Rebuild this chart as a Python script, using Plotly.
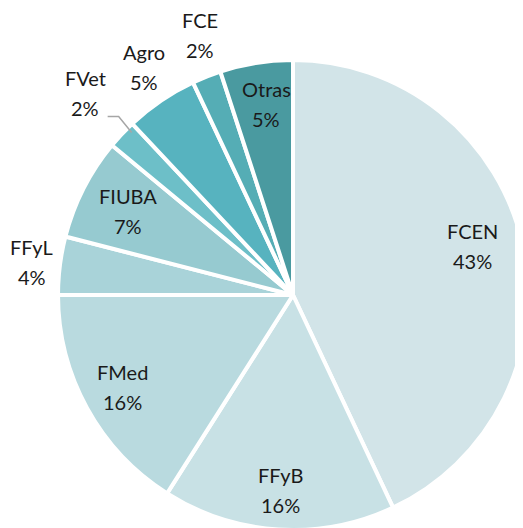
import math
import plotly.graph_objects as go

labels = ["FCEN", "FFyB", "FMed", "FFyL", "FIUBA", "FVet", "Agro", "FCE", "Otras"]
values = [43, 16, 16, 4, 7, 2, 5, 2, 5]
colors = ["#D2E4E8", "#C8E1E5", "#B9DADF", "#A9D3D9", "#96CAD0",
          "#6DBFC8", "#57B3BF", "#55ADB5", "#4A9AA0"]

# label placement styling (radius factor relative to pie radius, angle nudge in degrees)
label_radius = [0.79, 0.83, 0.825, 1.12, 0.79, 1.234, 1.16, 1.175, 0.82]
label_nudge = [-2.7, 0.0, 0.5, 0.0, 0.0, 1.0, 1.0, 1.9, 1.0]
leader = [False, False, False, False, False, True, False, False, False]

W, H = 523, 528
dom_x = [0.0956, 0.9943]
dom_y = [0.0114, 0.9015]

fig = go.Figure(go.Pie(
    labels=labels,
    values=values,
    sort=False,
    direction="clockwise",
    rotation=0,
    marker=dict(colors=colors, line=dict(color="white", width=4)),
    textinfo="none",
    showlegend=False,
    hoverinfo="label+percent",
    domain=dict(x=dom_x, y=dom_y),
))

# pie geometry (paper coords) derived from the domain
wpx = (dom_x[1] - dom_x[0]) * W
hpx = (dom_y[1] - dom_y[0]) * H
R = min(wpx, hpx) / 2.0
cx_px = (dom_x[0] + dom_x[1]) / 2.0 * W
cy_px = (dom_y[0] + dom_y[1]) / 2.0 * H  # from bottom

font = dict(family="Lato, Carlito, Calibri, sans-serif", size=20, color="#1A1A1A")
total = float(sum(values))
cum = 0.0
shapes = []
annotations = []
for lab, v, f, nd, ld in zip(labels, values, label_radius, label_nudge, leader):
    mid = (cum + v / 2.0) / total * 2 * math.pi
    cum += v
    a = mid + math.radians(nd)
    px = cx_px + f * R * math.sin(a)
    py = cy_px + f * R * math.cos(a)
    pct = "%d%%" % round(v / total * 100)
    for txt, shift in ((lab, 15), (pct, -15)):
        annotations.append(dict(
            x=px / W, y=py / H, xref="paper", yref="paper",
            text=txt, showarrow=False, font=font,
            xanchor="center", yanchor="middle", yshift=shift,
        ))
    if ld:
        ea = mid + math.radians(2.0)
        ex, ey = cx_px + (R - 6) * math.sin(ea), cy_px + (R - 6) * math.cos(ea)
        bx, by = ex - 13, ey + 16
        tx, ty = bx - 11, by
        path = "M %f,%f L %f,%f L %f,%f" % (ex / W, ey / H, bx / W, by / H, tx / W, ty / H)
        shapes.append(dict(type="path", path=path, xref="paper", yref="paper",
                           line=dict(color="#A6A6A6", width=1.5)))

fig.update_layout(
    width=W, height=H,
    margin=dict(l=0, r=0, t=0, b=0),
    paper_bgcolor="white",
    plot_bgcolor="white",
    annotations=annotations,
    shapes=shapes,
)

fig.write_html("out.html")
